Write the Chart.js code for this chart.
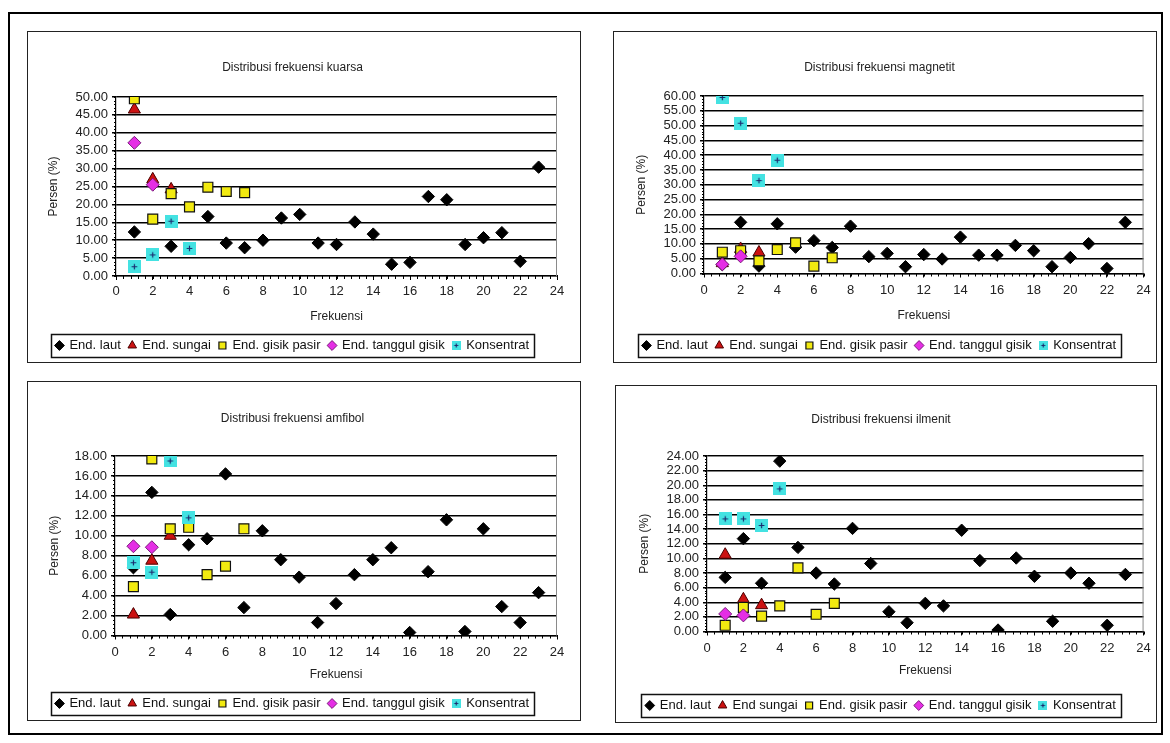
<!DOCTYPE html>
<html>
<head>
<meta charset="utf-8">
<script src="https://cdn.jsdelivr.net/npm/chart.js@4.4.1/dist/chart.umd.min.js"></script>
<style>
  body { margin: 0; background: #fff; }
  #bingkai { position: absolute; left: 8px; top: 12px; width: 1155px; height: 723px; border: 2px solid #000; box-sizing: border-box; }
  .panel { position: absolute; border: 1px solid #222; box-sizing: border-box; background: #fff; }
  .panel canvas { position: absolute; left: 0; top: 0; }
</style>
</head>
<body>
<div id="bingkai"></div>
<div class="panel" id="p1"><canvas id="grafikKuarsa"></canvas></div>
<div class="panel" id="p2"><canvas id="grafikMagnetit"></canvas></div>
<div class="panel" id="p3"><canvas id="grafikAmfibol"></canvas></div>
<div class="panel" id="p4"><canvas id="grafikIlmenit"></canvas></div>
<script>
// Frekuensi (sumbu x)
const frekuensi = [1, 2, 3, 4, 5, 6, 7, 8, 9, 10, 11, 12, 13, 14, 15, 16, 17, 18, 19, 20, 21, 22, 23];
const xTicks = [0, 2, 4, 6, 8, 10, 12, 14, 16, 18, 20, 22, 24];

// Kuarsa
const kuarsaLaut = [12.3, null, 8.3, null, 16.6, 9.2, 7.9, 10.0, 16.2, 17.2, 9.2, 8.8, 15.1, 11.7, 3.3, 3.8, 22.2, 21.3, 8.8, 10.7, 12.1, 4.1, 30.4];
const kuarsaSungai = [46.5, 27.0, 24.2];
const kuarsaGisik = [49.5, 15.9, 23.0, 19.3, 24.8, 23.6, 23.3];
const kuarsaTanggul = [37.2, 25.5];
const kuarsaKonsentrat = [2.6, 5.9, 15.3, 7.7];

// Magnetit
const magnetitLaut = [3.0, 17.3, 2.5, 16.8, 8.9, 11.1, 8.8, 16.0, 5.7, 6.8, 2.3, 6.4, 4.9, 12.3, 6.2, 6.2, 9.5, 7.7, 2.3, 5.4, 10.1, 1.7, 17.3];
const magnetitSungai = [3.5, 8.3, 7.1];
const magnetitGisik = [7.2, 7.7, 4.3, 8.1, 10.4, 2.5, 5.3];
const magnetitTanggul = [3.1, 5.8];
const magnetitKonsentrat = [59.5, 50.8, 31.4, 38.3];

// Amfibol
const amfibolLaut = [6.8, 14.35, 2.1, 9.1, 9.7, 16.2, 2.8, 10.5, 7.6, 5.85, 1.3, 3.2, 6.1, 7.6, 8.8, 0.3, 6.4, 11.6, 0.4, 10.7, 2.9, 1.3, 4.3];
const amfibolSungai = [2.1, 7.5, 10.0];
const amfibolGisik = [4.9, 17.7, 10.7, 10.85, 6.1, 6.95, 10.7];
const amfibolTanggul = [8.95, 8.85];
const amfibolKonsentrat = [7.3, 6.35, 17.5, 11.8];

// Ilmenit
const ilmenitLaut = [7.4, 12.7, 6.6, 23.3, 11.5, 8.0, 6.5, 14.1, 9.3, 2.7, 1.2, 3.85, 3.5, 13.85, 9.7, 0.2, 10.05, 7.55, 1.4, 8.0, 6.6, 0.85, 7.8];
const ilmenitSungai = [10.5, 4.4, 3.6];
const ilmenitGisik = [0.85, 3.3, 2.1, 3.5, 8.7, 2.35, 3.85];
const ilmenitTanggul = [2.4, 2.2];
const ilmenitKonsentrat = [15.4, 15.4, 14.5, 19.5];

const namaSeri = ["End. laut", "End. sungai", "End. gisik pasir", "End. tanggul gisik", "Konsentrat"];
const namaSeriIlmenit = ["End. laut", "End sungai", "End. gisik pasir", "End. tanggul gisik", "Konsentrat"];

Chart.defaults.font.family = "'Liberation Sans', Arial, sans-serif";
Chart.defaults.color = "#222";

// Penanda Konsentrat: kotak cyan dengan tanda bintang kecil
function buatKonsentrat(s) {
  const c = document.createElement("canvas");
  c.width = s; c.height = s;
  const g = c.getContext("2d");
  g.fillStyle = "#44e2e2";
  g.fillRect(0, 0, s, s);
  g.strokeStyle = "#1b2c70";
  g.lineWidth = 1.2;
  const m = s / 2, r = s * 0.22;
  g.beginPath();
  g.moveTo(m - r, m); g.lineTo(m + r, m);
  g.moveTo(m, m - r); g.lineTo(m, m + r);
  g.stroke();
  return c;
}
const ikonKonsentrat = buatKonsentrat(13);
const ikonKecil = buatKonsentrat(9);

// ubah array nilai menjadi titik {x, y}
function titik(nilai) {
  const hasil = [];
  nilai.forEach((v, i) => { if (v !== null) hasil.push({ x: frekuensi[i], y: v }); });
  return hasil;
}

// Plugin: bingkai area plot, tick kecil, kotak legenda
const hiasan = {
  id: "hiasan",
  beforeDatasetsDraw(chart) {
    const { ctx, chartArea: a } = chart;
    ctx.save();
    ctx.strokeStyle = "#8a8a8a";
    ctx.lineWidth = 1;
    ctx.beginPath();
    ctx.moveTo(a.left, a.top + 0.5); ctx.lineTo(a.right - 0.5, a.top + 0.5); ctx.lineTo(a.right - 0.5, a.bottom);
    ctx.stroke();
    ctx.restore();
  },
  afterDraw(chart) {
    const { ctx, chartArea: a, scales: { x, y } } = chart;
    ctx.save();
    ctx.strokeStyle = "#000";
    ctx.lineWidth = 1;
    ctx.beginPath();
    for (let v = 0; v <= 24.001; v += 0.4) {
      const px = Math.round(x.getPixelForValue(v)) + 0.5;
      ctx.moveTo(px, a.bottom); ctx.lineTo(px, a.bottom + 3);
    }
    const st = y.options.ticks.stepSize / 5;
    for (let v = 0; v <= y.max + 1e-6; v += st) {
      const py = Math.round(y.getPixelForValue(v)) + 0.5;
      ctx.moveTo(a.left, py); ctx.lineTo(a.left - 2, py);
    }
    ctx.stroke();
    // kotak legenda
    const hb = chart.legend.legendHitBoxes;
    if (hb && hb.length) {
      const kiri = Math.min(...hb.map(h => h.left));
      const kanan = Math.max(...hb.map(h => h.left + h.width));
      const atas = hb[0].top;
      ctx.lineWidth = 1.5;
      ctx.strokeStyle = "#111";
      ctx.strokeRect(Math.round(kiri - 5) + 0.5, Math.round(atas - 5) + 0.5, Math.round(kanan - kiri + 10), 23);
    }
    ctx.restore();
  }
};

function buatGrafik(cfg) {
  const panel = document.getElementById(cfg.panel);
  const [fl, ft, fw, fh] = cfg.bingkai;
  panel.style.left = fl + "px"; panel.style.top = ft + "px";
  panel.style.width = fw + "px"; panel.style.height = fh + "px";
  const W = fw - 2, H = fh - 2;
  const canvas = document.getElementById(cfg.canvasId);
  canvas.width = W; canvas.height = H;

  const [pl, pt, pr, pb] = cfg.plot;
  const padLeg = 8;
  const legTop = cfg.legendY - padLeg - 6.5;
  const tinggiX = legTop - pb;

  const gaya = [
    { pointStyle: "rectRot", radius: 6.2, backgroundColor: "#000", borderColor: "#000", borderWidth: 1, order: 5 },
    { pointStyle: "triangle", radius: 7, backgroundColor: "#cc1212", borderColor: "#4a0000", borderWidth: 1, order: 4 },
    { pointStyle: "rect", radius: 7, backgroundColor: "#f2ea10", borderColor: "#111", borderWidth: 1.2, order: 3 },
    { pointStyle: "rectRot", radius: 6.5, backgroundColor: "#e52ee5", borderColor: "#7a1a7a", borderWidth: 1, order: 2 },
    { pointStyle: ikonKonsentrat, radius: 6, backgroundColor: "#44e2e2", borderColor: "#44e2e2", borderWidth: 0, order: 1 }
  ];

  const datasets = cfg.seri.map((nilai, i) => ({
    label: cfg.nama[i],
    data: titik(nilai),
    showLine: false,
    pointStyle: gaya[i].pointStyle,
    pointRadius: gaya[i].radius,
    pointHoverRadius: gaya[i].radius,
    pointBackgroundColor: gaya[i].backgroundColor,
    pointBorderColor: gaya[i].borderColor,
    pointBorderWidth: gaya[i].borderWidth,
    backgroundColor: gaya[i].backgroundColor,
    borderColor: gaya[i].borderColor,
    borderWidth: gaya[i].borderWidth,
    order: gaya[i].order
  }));

  return new Chart(canvas, {
    type: "scatter",
    data: { datasets },
    plugins: [hiasan],
    options: {
      responsive: false,
      animation: false,
      layout: { padding: { left: 0, right: W - pr, top: 0, bottom: 0 } },
      plugins: {
        tooltip: { enabled: false },
        title: {
          display: true,
          text: cfg.judul,
          color: "#222",
          font: { size: 12, weight: "normal" },
          padding: { top: cfg.judulY - 7.2, bottom: pt - cfg.judulY - 7.2 }
        },
        legend: {
          position: "bottom",
          maxHeight: H - legTop,
          labels: {
            usePointStyle: true,
            boxWidth: 7,
            boxHeight: 7,
            padding: padLeg,
            color: "#111",
            font: { size: 13 },
            sort: (a, b) => a.datasetIndex - b.datasetIndex,
            generateLabels(chart) {
              const items = Chart.defaults.plugins.legend.labels.generateLabels(chart);
              items.forEach(it => { if (it.text === "Konsentrat") it.pointStyle = ikonKecil; });
              return items;
            }
          }
        }
      },
      scales: {
        x: {
          type: "linear",
          min: 0, max: 24,
          afterFit(scale) { scale.height = tinggiX; },
          afterBuildTicks(scale) { scale.ticks = xTicks.map(v => ({ value: v })); },
          ticks: { stepSize: 2, font: { size: 13 }, color: "#222", padding: cfg.labelY - pb - 4 - 7.8, maxRotation: 0 },
          grid: { drawOnChartArea: false, drawTicks: true, tickLength: 4, color: "#000" },
          border: { color: "#000", width: 1.2 },
          title: {
            display: true, text: "Frekuensi", color: "#222", font: { size: 12 },
            padding: { top: 0, bottom: legTop - cfg.xJudulY - 7.2 }
          }
        },
        y: {
          min: 0, max: cfg.maks,
          afterFit(scale) { scale.width = pl; },
          ticks: {
            stepSize: cfg.langkah, autoSkip: false, font: { size: 13 }, color: "#222", padding: 4,
            callback: v => v.toFixed(2)
          },
          grid: { color: "#000", lineWidth: 1.5, tickLength: 4 },
          border: { color: "#000", width: 1.2 },
          title: {
            display: true, text: "Persen (%)", color: "#222", font: { size: 12 },
            padding: { top: cfg.yJudulX - 7.2, bottom: 0 }
          }
        }
      }
    }
  });
}

buatGrafik({
  panel: "p1", canvasId: "grafikKuarsa", judul: "Distribusi frekuensi kuarsa",
  bingkai: [27, 31, 554, 332], plot: [88, 65, 529, 236],
  judulY: 36, labelY: 251, xJudulY: 277, legendY: 305.5, yJudulX: 26,
  maks: 50, langkah: 5, nama: namaSeri,
  seri: [kuarsaLaut, kuarsaSungai, kuarsaGisik, kuarsaTanggul, kuarsaKonsentrat]
});
buatGrafik({
  panel: "p2", canvasId: "grafikMagnetit", judul: "Distribusi frekuensi magnetit",
  bingkai: [613, 31, 544, 332], plot: [90, 64, 531, 237],
  judulY: 36, labelY: 254, xJudulY: 279, legendY: 309, yJudulX: 28,
  maks: 60, langkah: 5, nama: namaSeri,
  seri: [magnetitLaut, magnetitSungai, magnetitGisik, magnetitTanggul, magnetitKonsentrat]
});
buatGrafik({
  panel: "p3", canvasId: "grafikAmfibol", judul: "Distribusi frekuensi amfibol",
  bingkai: [27, 381, 554, 340], plot: [87, 74, 529, 248],
  judulY: 37, labelY: 265, xJudulY: 287, legendY: 316, yJudulX: 27,
  maks: 18, langkah: 2, nama: namaSeri,
  seri: [amfibolLaut, amfibolSungai, amfibolGisik, amfibolTanggul, amfibolKonsentrat]
});
buatGrafik({
  panel: "p4", canvasId: "grafikIlmenit", judul: "Distribusi frekuensi ilmenit",
  bingkai: [615, 385, 542, 338], plot: [91, 70, 530, 240],
  judulY: 34, labelY: 257, xJudulY: 279, legendY: 314, yJudulX: 29,
  maks: 24, langkah: 2, nama: namaSeriIlmenit,
  seri: [ilmenitLaut, ilmenitSungai, ilmenitGisik, ilmenitTanggul, ilmenitKonsentrat]
});
</script>
</body>
</html>
